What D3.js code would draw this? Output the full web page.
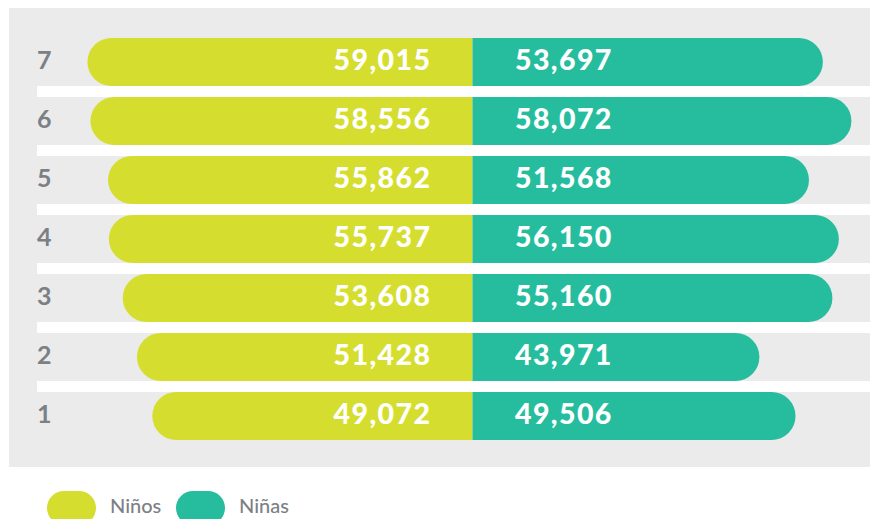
<!DOCTYPE html>
<html>
<head>
<meta charset="utf-8">
<script src="https://cdn.jsdelivr.net/npm/d3@7"></script>
<style>
  html, body { margin: 0; padding: 0; background: #ffffff; }
  svg { display: block; }
</style>
</head>
<body>
<svg id="chart" width="870" height="519"></svg>
<script>
const categories = ["7", "6", "5", "4", "3", "2", "1"];
const ninos = [59015, 58556, 55862, 55737, 53608, 51428, 49072];
const ninas = [53697, 58072, 51568, 56150, 55160, 43971, 49506];
const seriesNames = ["Niños", "Niñas"];
const seriesColors = ["#d5de2f", "#26bd9e"];

const W = 870, H = 519;
const svg = d3.select("#chart");
const fontFam = "Lato, 'Open Sans', sans-serif";

// panel
svg.append("rect").attr("x", 9).attr("y", 8).attr("width", W - 9).attr("height", 459).attr("fill", "#ebebeb");

const cx = 472.5;
const x = d3.scaleLinear().domain([0, 60000]).range([0, 391.5]);
const step = 59, bh = 48;
const y = d3.scalePoint().domain(categories).range([38, 38 + step * (categories.length - 1)]);

// white separators between rows
categories.slice(1).forEach(c => {
  svg.append("rect").attr("x", 37).attr("y", y(c) - 11).attr("width", W - 37).attr("height", 11).attr("fill", "#ffffff");
});

const r = bh / 2;
function leftPath(len, top) {
  const x0 = cx - len, x1 = cx;
  return `M${x1},${top} L${x0 + r},${top} A${r},${r} 0 0 0 ${x0 + r},${top + bh} L${x1},${top + bh} Z`;
}
function rightPath(len, top) {
  const x0 = cx, x1 = cx + len;
  return `M${x0},${top} L${x1 - r},${top} A${r},${r} 0 0 1 ${x1 - r},${top + bh} L${x0},${top + bh} Z`;
}

const ls = 1.4;
const g = svg.append("g");
categories.forEach((c, i) => {
  const top = y(c);
  g.append("path").attr("d", leftPath(x(ninos[i]), top)).attr("fill", seriesColors[0]);
  g.append("path").attr("d", rightPath(x(ninas[i]), top)).attr("fill", seriesColors[1]);
  g.append("text").attr("x", 430 + ls).attr("y", top + bh / 2 + 7.5).attr("text-anchor", "end")
    .attr("font-family", fontFam).attr("font-weight", 900).attr("font-size", 28.5).attr("letter-spacing", ls).attr("fill", "#ffffff")
    .text(d3.format(",")(ninos[i]));
  g.append("text").attr("x", 515).attr("y", top + bh / 2 + 7.5).attr("text-anchor", "start")
    .attr("font-family", fontFam).attr("font-weight", 900).attr("font-size", 28.5).attr("letter-spacing", ls).attr("fill", "#ffffff")
    .text(d3.format(",")(ninas[i]));
  g.append("text").attr("x", 37).attr("y", top + bh / 2 + 6.5).attr("text-anchor", "start")
    .attr("font-family", fontFam).attr("font-weight", 700).attr("font-size", 25).attr("fill", "#7c8085")
    .text(c);
});

// legend
const legX = [47, 176];
seriesNames.forEach((n, i) => {
  svg.append("rect").attr("x", legX[i]).attr("y", 491).attr("width", 49).attr("height", 34).attr("rx", 17).attr("fill", seriesColors[i]);
  svg.append("text").attr("x", legX[i] + 63).attr("y", 513).attr("font-family", fontFam).attr("font-size", 20)
    .attr("font-weight", 500).attr("fill", "#7c8085").text(n);
});
</script>
</body>
</html>
